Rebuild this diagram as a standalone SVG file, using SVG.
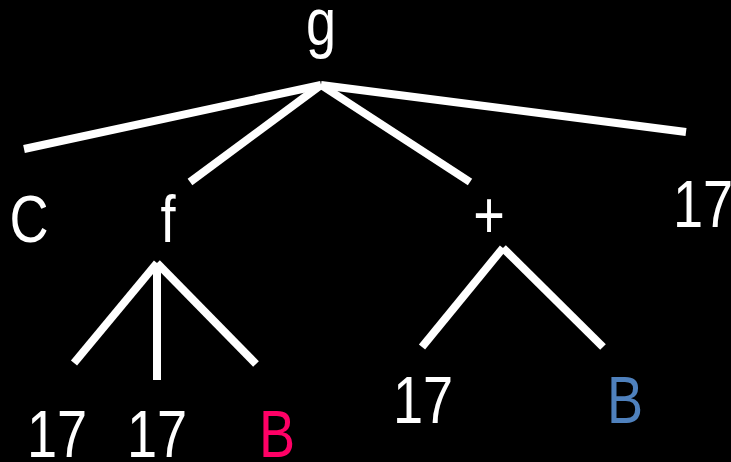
<svg xmlns="http://www.w3.org/2000/svg" width="731" height="462" viewBox="0 0 731 462">
<style>
text{font-family:"Liberation Sans",Arial,sans-serif;font-size:66px;fill:#fff;text-anchor:middle}
.e{stroke:#fff;stroke-width:8;fill:none;stroke-linecap:butt}
.pink{fill:#FF0066}
.blue{fill:#4F81BD}
</style>
<rect width="731" height="462" fill="#000"/>
<g id="connectors">
<line class="e" x1="321" y1="85" x2="24" y2="149"/>
<line class="e" x1="321" y1="85" x2="190" y2="182"/>
<line class="e" x1="321" y1="85" x2="470" y2="182"/>
<line class="e" x1="321" y1="85" x2="686" y2="132"/>
<line class="e" x1="157" y1="263" x2="74" y2="363"/>
<line class="e" x1="157" y1="263" x2="157" y2="380"/>
<line class="e" x1="157" y1="263" x2="256" y2="364"/>
<line class="e" x1="503" y1="248" x2="422" y2="347"/>
<line class="e" x1="503" y1="248" x2="603" y2="347"/>
</g>
<g id="n-g"><text transform="translate(321,45) scale(0.82,1)">g</text></g>
<g id="n-C"><text transform="translate(29,242) scale(0.82,1)">C</text></g>
<g id="n-f"><text transform="translate(168,242) scale(0.82,1)">f</text></g>
<g id="n-plus"><text transform="translate(489,238) scale(0.82,1)">+</text></g>
<g id="n-17a"><text transform="translate(703,227) scale(0.82,1)">17</text></g>
<g id="n-17b"><text transform="translate(57,457) scale(0.82,1)">17</text></g>
<g id="n-17c"><text transform="translate(157,457) scale(0.82,1)">17</text></g>
<g id="n-Bpink"><text class="pink" transform="translate(277,457) scale(0.82,1)">B</text></g>
<g id="n-17d"><text transform="translate(423,423) scale(0.82,1)">17</text></g>
<g id="n-Bblue"><text class="blue" transform="translate(625,423) scale(0.82,1)">B</text></g>
</svg>
